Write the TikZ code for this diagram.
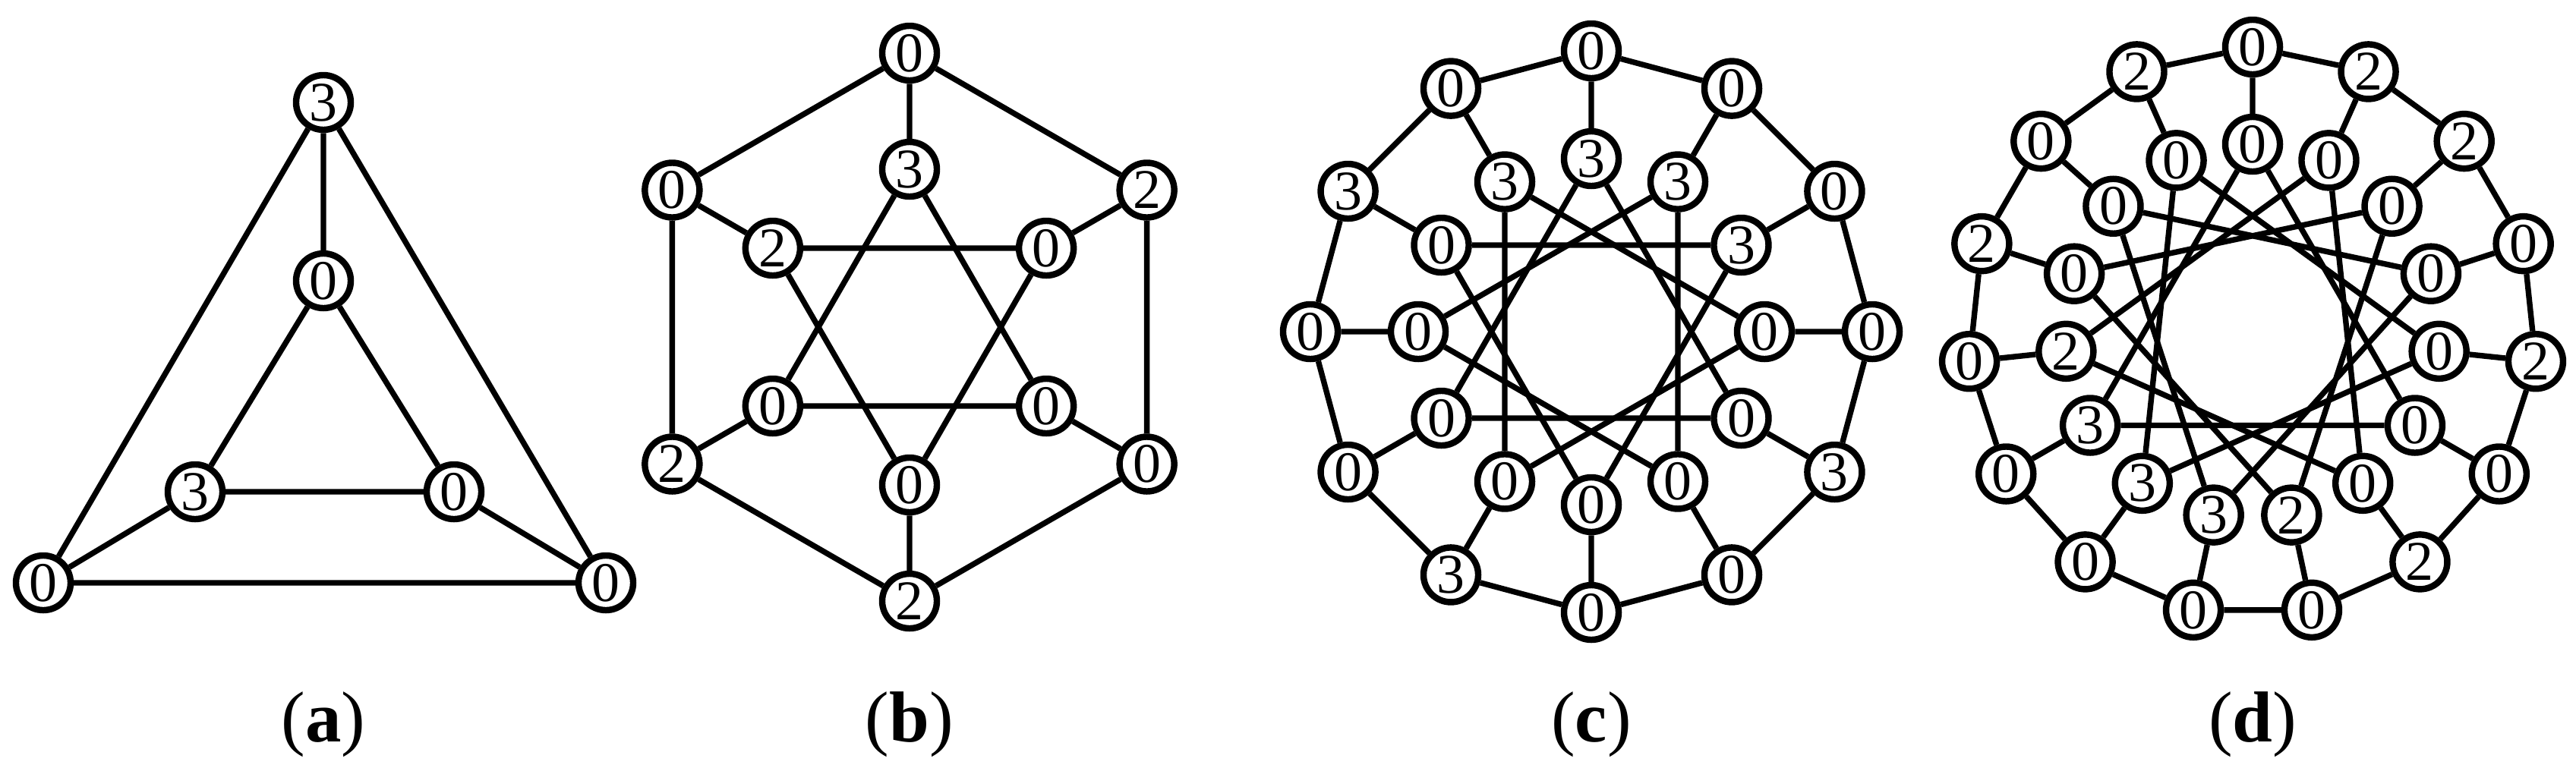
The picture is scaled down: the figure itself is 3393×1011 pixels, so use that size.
\documentclass[tikz,border=0pt]{standalone}
\usepackage{fontspec}
\setmainfont{Liberation Serif}
\usetikzlibrary{backgrounds}
\begin{document}
\begin{tikzpicture}[x=0.01cm,y=-0.01cm,
  v/.style={circle,draw,line width=2.4pt,fill=white,minimum size=0.72cm,inner sep=0pt,font=\fontsize{21}{21}\selectfont},
  e/.style={line width=2.1pt},
  captxt/.style={font=\fontsize{27}{27}\selectfont}]
\useasboundingbox (0,0) rectangle (3393,1011);
% (a)
\node[v] (a0) at (426,135) {3};
\node[v] (a1) at (798,768) {0};
\node[v] (a2) at (57,768) {0};
\node[v] (b0) at (426,370) {0};
\node[v] (b1) at (598,648) {0};
\node[v] (b2) at (257,648) {3};
\begin{scope}[on background layer]
\draw[e] (a0)--(a1) (a1)--(a2) (a2)--(a0) (b0)--(b1) (b1)--(b2) (b2)--(b0) (a0)--(b0) (a1)--(b1) (a2)--(b2);
\end{scope}
\node[captxt] (ca) at (426,955) {(\textbf{a})};
% (b) n=6
\foreach \lab [count=\i from 0] in {0,2,0,2,2,0} {
  \pgfmathsetmacro{\ang}{90-\i*60}
  \node[v] (bo\i) at ({1198+361*cos(\ang)},{431-361*sin(\ang)}) {\lab};}
\foreach \lab [count=\i from 0] in {3,0,0,0,0,2} {
  \pgfmathsetmacro{\ang}{90-\i*60}
  \node[v] (bi\i) at ({1198+208*cos(\ang)},{431-208*sin(\ang)}) {\lab};}
\begin{scope}[on background layer]
\foreach \i in {0,...,5} {
  \pgfmathtruncatemacro{\j}{mod(\i+1,6)}
  \pgfmathtruncatemacro{\k}{mod(\i+2,6)}
  \draw[e] (bo\i)--(bo\j) (bo\i)--(bi\i) (bi\i)--(bi\k);}
\end{scope}
\node[captxt] (cb) at (1198,955) {(\textbf{b})};
% (c) n=12, step 4
\foreach \lab [count=\i from 0] in {0,0,0,0,3,0,0,3,0,0,3,0} {
  \pgfmathsetmacro{\ang}{90-\i*30}
  \node[v] (co\i) at ({2096+370*cos(\ang)},{437-370*sin(\ang)}) {\lab};}
\foreach \lab [count=\i from 0] in {3,3,3,0,0,0,0,0,0,0,0,3} {
  \pgfmathsetmacro{\ang}{90-\i*30}
  \node[v] (ci\i) at ({2096+228*cos(\ang)},{437-228*sin(\ang)}) {\lab};}
\begin{scope}[on background layer]
\foreach \i in {0,...,11} {
  \pgfmathtruncatemacro{\j}{mod(\i+1,12)}
  \pgfmathtruncatemacro{\k}{mod(\i+4,12)}
  \draw[e] (co\i)--(co\j) (co\i)--(ci\i) (ci\i)--(ci\k);}
\end{scope}
\node[captxt] (cc) at (2096,955) {(\textbf{c})};
% (d) n=15, step 5
\foreach \lab [count=\i from 0] in {0,2,2,0,2,0,2,0,0,0,0,0,2,0,2} {
  \pgfmathsetmacro{\ang}{90-\i*24}
  \node[v] (do\i) at ({2967+375*cos(\ang)},{437-375*sin(\ang)}) {\lab};}
\foreach \lab [count=\i from 0] in {0,0,0,0,0,0,0,2,3,3,3,2,0,0,0} {
  \pgfmathsetmacro{\ang}{90-\i*24}
  \node[v] (di\i) at ({2967+247*cos(\ang)},{437-247*sin(\ang)}) {\lab};}
\begin{scope}[on background layer]
\foreach \i in {0,...,14} {
  \pgfmathtruncatemacro{\j}{mod(\i+1,15)}
  \pgfmathtruncatemacro{\k}{mod(\i+5,15)}
  \draw[e] (do\i)--(do\j) (do\i)--(di\i) (di\i)--(di\k);}
\end{scope}
\node[captxt] (cd) at (2967,955) {(\textbf{d})};
\end{tikzpicture}
\end{document}
